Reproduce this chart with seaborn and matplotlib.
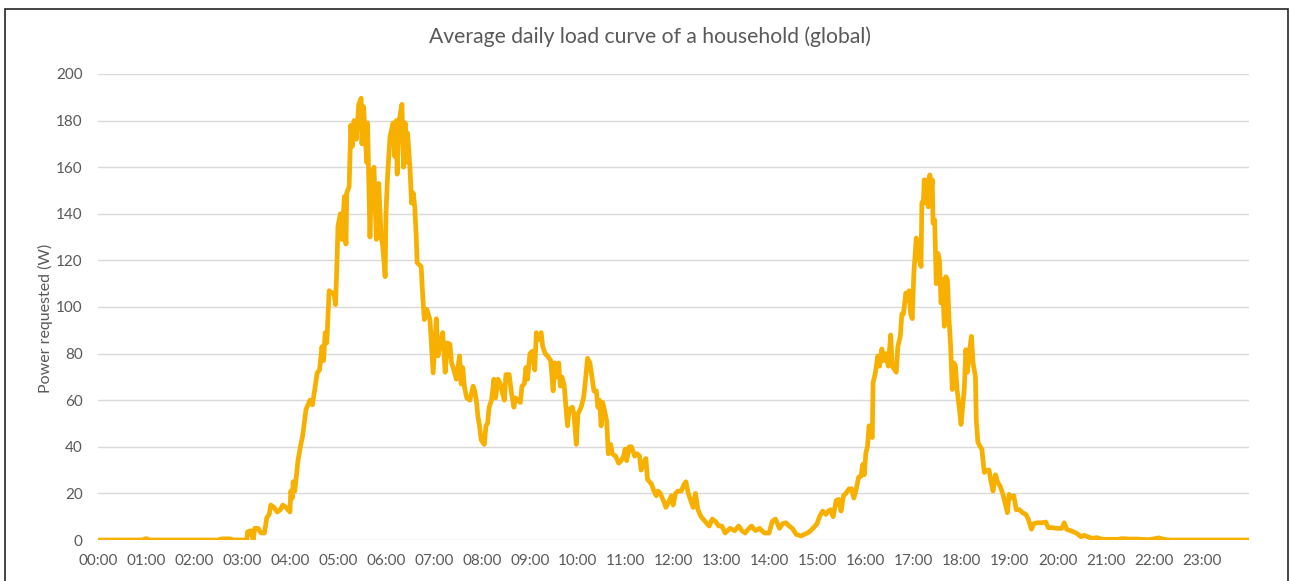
import matplotlib
matplotlib.use("Agg")
import matplotlib.pyplot as plt
import seaborn as sns
import pandas as pd
from matplotlib.patches import Rectangle

# ---- data (minute of day, power in W) ----
minutes = [0, 55, 60, 65, 150, 155, 165, 170, 186, 187, 191, 194, 196, 200, 204, 208, 211, 214, 216, 220,
           224, 228, 231, 235, 240, 241, 243, 244, 246, 250, 253, 256, 260, 265, 268, 271, 274, 277, 280, 282,
           284, 286, 289, 292, 295, 297, 299, 300, 303, 305, 308, 310, 311, 314, 316, 318, 320, 322, 323, 326,
           329, 330, 332, 336, 337, 340, 342, 345, 348, 349, 351, 354, 356, 359, 360, 362, 365, 369, 371, 373,
           374, 376, 380, 382, 384, 385, 387, 390, 392, 394, 396, 398, 399, 404, 406, 408, 411, 415, 419, 423,
           425, 427, 429, 431, 434, 437, 440, 442, 444, 448, 452, 454, 456, 458, 461, 465, 467, 469, 471, 473,
           475, 477, 479, 483, 485, 487, 489, 492, 495, 497, 500, 503, 505, 508, 510, 514, 517, 520, 522, 525,
           528, 530, 533, 535, 537, 540, 543, 546, 548, 551, 554, 556, 559, 562, 566, 569, 571, 574, 576, 578,
           580, 583, 585, 587, 589, 593, 595, 598, 600, 604, 607, 609, 612, 615, 618, 620, 623, 625, 627, 629,
           631, 633, 636, 638, 641, 643, 647, 651, 654, 657, 659, 661, 664, 667, 671, 674, 677, 679, 682, 685,
           687, 692, 695, 698, 700, 703, 708, 710, 713, 717, 719, 722, 725, 729, 733, 735, 738, 741, 744, 747,
           750, 754, 759, 764, 768, 772, 776, 780, 784, 790, 796, 801, 805, 809, 814, 817, 822, 827, 833, 839,
           843, 847, 852, 856, 860, 864, 868, 873, 879, 883, 887, 891, 895, 899, 902, 906, 910, 913, 916, 919,
           923, 926, 929, 932, 935, 939, 942, 945, 948, 951, 954, 956, 958, 960, 962, 964, 968, 969, 972, 975,
           977, 980, 982, 985, 988, 991, 993, 996, 998, 1000, 1003, 1005, 1007, 1010, 1012, 1014, 1016, 1018, 1020, 1023,
           1025, 1027, 1029, 1030, 1032, 1033, 1035, 1037, 1038, 1040, 1041, 1043, 1044, 1046, 1048, 1050, 1052, 1054, 1056, 1058,
           1060, 1062, 1064, 1066, 1068, 1070, 1072, 1074, 1076, 1079, 1081, 1083, 1085, 1087, 1089, 1091, 1092, 1094, 1097, 1098,
           1100, 1103, 1105, 1108, 1111, 1114, 1116, 1119, 1122, 1125, 1128, 1131, 1134, 1137, 1139, 1142, 1145, 1148, 1152, 1156,
           1160, 1163, 1167, 1170, 1174, 1180, 1185, 1188, 1193, 1199, 1205, 1208, 1211, 1216, 1223, 1229, 1233, 1237, 1243, 1249,
           1255, 1275, 1280, 1290, 1300, 1314, 1326, 1332, 1340, 1439]

power = [0, 0, 0.6, 0, 0, 0.5, 0.5, 0, 0, 3.5, 4, 0, 5, 5, 3, 3, 9.5, 11, 15, 14,
         12, 13, 15, 14, 12, 21, 18, 25, 21, 34, 40, 45, 56, 60, 58, 64.6, 71.7, 73, 83, 77,
         89, 84.6, 107, 106, 106, 101, 121.7, 134.6, 140, 129, 147.4, 127, 149, 151.7, 178, 169, 180, 177, 172, 187,
         189.6, 170, 186, 162, 179, 130, 154.6, 160, 129, 151.7, 153, 130, 126, 113, 140, 156, 173, 179, 164.6, 180,
         157, 179, 187, 160, 179, 162, 174.6, 160, 144.6, 149, 143, 129, 119, 117.4, 104.6, 94.6, 99, 94.6, 71.7, 95,
         79, 83, 86, 89, 72, 84.6, 84, 76, 74, 69, 79, 67, 74, 66, 61, 60, 63, 66, 64, 60,
         53, 49, 43, 41, 49, 50, 57, 60, 69, 61, 69, 67, 64, 60, 71, 71, 63, 57, 61, 60,
         59, 66, 67, 74, 69, 80, 81, 73, 89, 86, 89, 83, 80, 79, 77, 64, 76, 70, 76, 66,
         70, 66, 57, 49, 56, 57, 54, 41, 54, 57, 61, 67, 78, 76, 69, 64, 64, 57, 60, 49,
         59, 56, 51, 37, 41, 37, 36, 33, 34, 36, 39, 34, 40, 40, 36, 37, 36, 30, 33, 35,
         26, 24, 21, 19, 21, 20, 16, 14, 16, 19, 15, 20, 21, 21, 24, 25, 20, 17, 14, 20,
         13, 10, 8, 6, 9, 8, 6, 6, 3, 5, 4, 6, 4, 3, 5, 6, 4, 5, 3, 3,
         8, 9, 5, 7, 7.4, 6, 5, 2.4, 1.7, 2.4, 3, 4, 5.4, 7, 10, 12.4, 11, 12.4, 13, 10,
         17, 17.4, 12.4, 19, 20, 22, 22, 18, 22, 27, 27.4, 32.4, 28, 37.4, 40, 49, 44, 67.4, 72, 79,
         74.6, 82, 77, 80, 74.6, 88, 74.6, 73, 72, 83, 87.4, 97, 97, 106, 103, 107, 97, 95, 114.6, 129.6,
         123, 120, 117.4, 144.6, 146, 154.6, 144.6, 154.6, 143, 156.7, 147.4, 154.6, 136, 137.4, 110, 123, 120, 101.7, 111.7, 91.7,
         113, 111.7, 94.6, 83, 64.6, 76, 74.6, 64.6, 59, 49.6, 57.4, 64.6, 81.7, 72, 80, 85, 87.4, 76, 70, 51.7,
         42, 40, 39, 29, 30, 30, 26, 21, 28, 24.6, 23, 20, 16, 11.7, 19.6, 18, 19, 13, 13, 11.7,
         11, 9, 4.6, 7, 7.4, 7.4, 7.7, 5.3, 5.3, 5, 5, 7.4, 4.6, 4, 3, 1.4, 2, 1.4, 0.7, 1,
         0.3, 0.3, 0.6, 0.4, 0.4, 0.1, 0.9, 0.3, 0, 0]

tick_minutes = list(range(0, 1440, 60))
tick_labels = [f"{h:02d}:00" for h in range(24)]
y_ticks = list(range(0, 201, 20))

title = "Average daily load curve of a household (global)"
y_label = "Power requested (W)"

df = pd.DataFrame({"minute": minutes, "power": power})

sns.set_theme(style="white")
plt.rcParams["font.family"] = ["Lato", "DejaVu Sans"]

fig = plt.figure(figsize=(12.9, 5.81), dpi=100)
ax = fig.add_axes([98 / 1290, 1 - 540 / 581, (1249 - 98) / 1290, (540 - 74) / 581])

for yv in y_ticks:
    ax.axhline(yv, color="#D9D9D9", lw=1.0, zorder=0)

sns.lineplot(data=df, x="minute", y="power", ax=ax, color="#F7B000", lw=3.4, zorder=3)

ax.set_xlim(0, 1439)
ax.set_ylim(0, 200)
ax.set_xticks(tick_minutes)
ax.set_xticklabels(tick_labels)
ax.set_yticks(y_ticks)
ax.tick_params(axis="both", length=0, labelsize=11, colors="#595959")
ax.tick_params(axis="y", pad=11)
ax.tick_params(axis="x", pad=10)
for s in ax.spines.values():
    s.set_visible(False)
ax.set_xlabel("")
ax.set_ylabel(y_label, fontsize=11.5, color="#595959")
ax.yaxis.set_label_coords((53 - 98) / 1151, (540 - 318) / 466)

fig.text(650 / 1290, 1 - 37 / 581, title, ha="center", va="center", fontsize=15.2, color="#595959")

fig.patches.append(Rectangle((5 / 1290, -0.1), (1288 - 5) / 1290, 1 - 9 / 581 + 0.1,
                             transform=fig.transFigure, fill=False, edgecolor="#262626", lw=1.2))

fig.savefig("out.png", dpi=100, facecolor="white")
